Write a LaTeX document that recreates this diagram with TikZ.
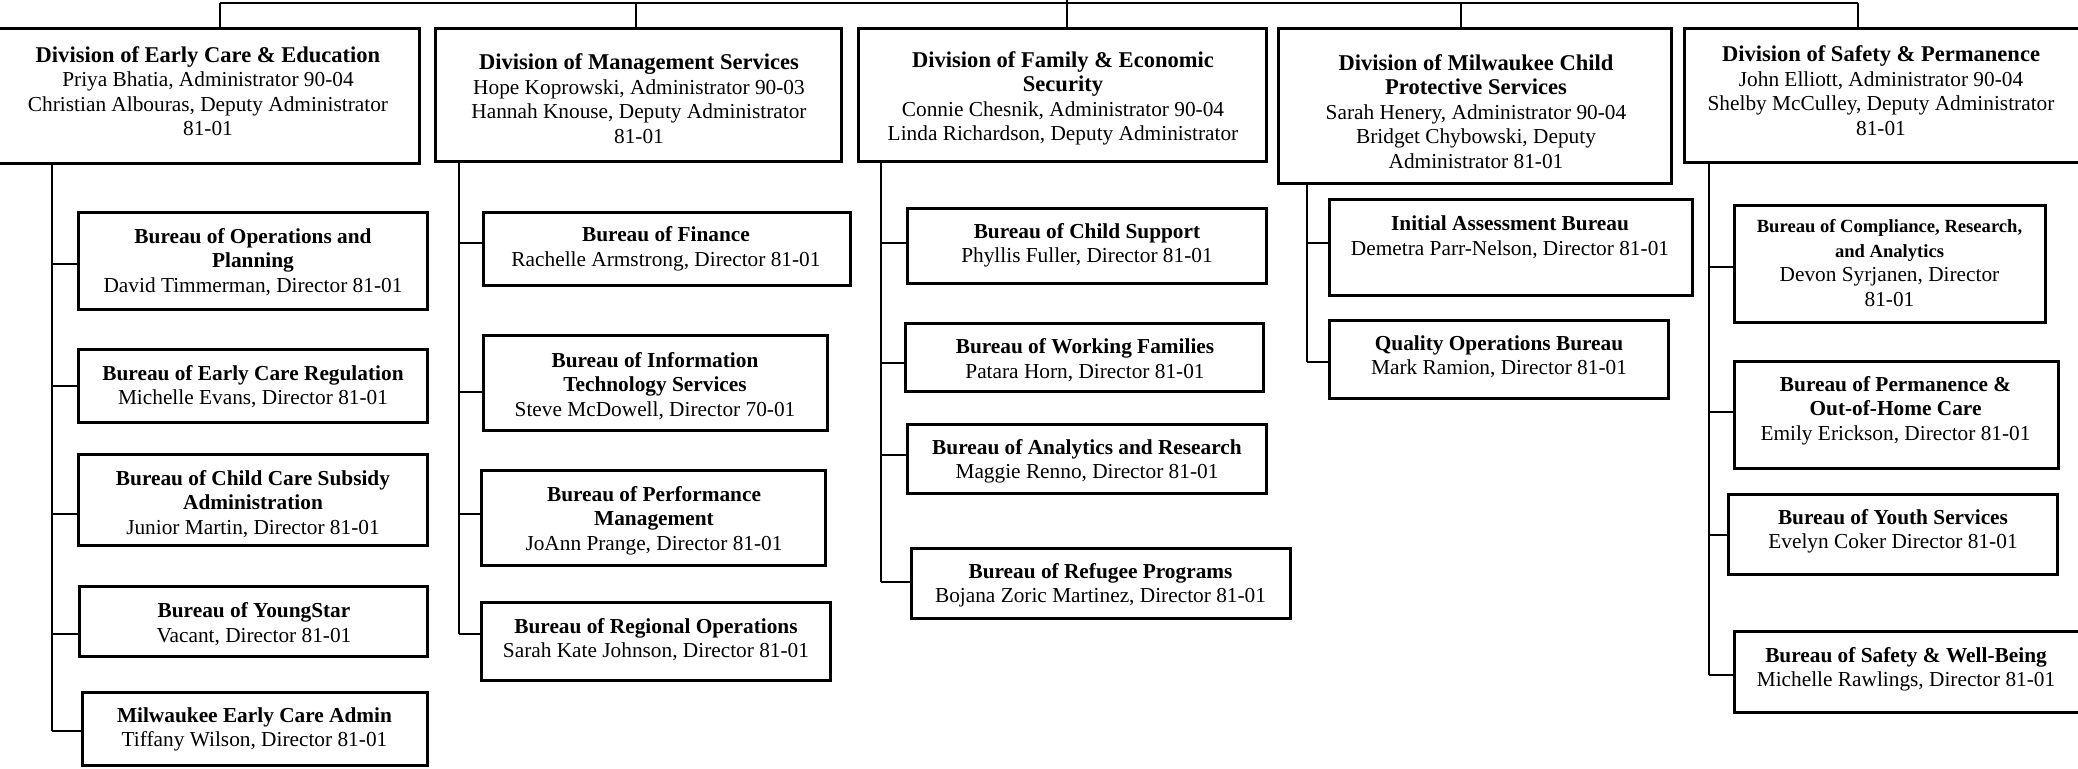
\documentclass[tikz,border=0pt]{standalone}
\usepackage{fontspec}
\setmainfont{Liberation Serif}
\usetikzlibrary{fit}
\tikzset{
  orgbox/.style={draw=black, line width=1.65pt, inner sep=0pt, outer sep=0pt},
  txt/.style={align=center, inner sep=0pt, text=black, font=\fontsize{10.66}{12.25}\selectfont},
  conn/.style={draw=black, line width=0.7pt},
}
\newcommand{\divtitle}[1]{{\fontsize{11.27}{12.25}\selectfont\bfseries #1}}
\newcommand{\smalltitle}[1]{{\fontsize{9.3}{10.6}\selectfont\bfseries #1}}
\begin{document}
\begin{tikzpicture}[x=0.5pt,y=-0.5pt]
\path[use as bounding box] (0,0) rectangle (2078,769);
\clip (0,0) rectangle (2078,769);
\fill[white] (0,0) rectangle (2078,769);

% ---------- Divisions ----------
\node[orgbox, fit={(-3,28.5)(419.5,163.5)}] (d1) {};
\node[txt] (d1t) at (208,91) {\divtitle{Division of Early Care \& Education}\\Priya Bhatia, Administrator 90-04\\Christian Albouras, Deputy Administrator\\81-01};

\node[orgbox, fit={(435.5,28.5)(841.5,161.5)}] (d2) {};
\node[txt] (d2t) at (639,98.5) {\divtitle{Division of Management Services}\\Hope Koprowski, Administrator 90-03\\Hannah Knouse, Deputy Administrator\\81-01};

\node[orgbox, fit={(858.5,28.5)(1266.5,161.5)}] (d3) {};
\node[txt] (d3t) at (1063,98.5) {\divtitle{Division of Family \& Economic}\\\divtitle{Security}\\Connie Chesnik, Administrator 90-04\\Linda Richardson, Deputy Administrator};

\node[orgbox, fit={(1278.5,28.5)(1671.5,183.5)}] (d4) {};
\node[txt] (d4t) at (1476,111.5) {\divtitle{Division of Milwaukee Child}\\\divtitle{Protective Services}\\Sarah Henery, Administrator 90-04\\Bridget Chybowski, Deputy\\Administrator 81-01};

\node[orgbox, fit={(1684.5,28.5)(2079.5,162.5)}] (d5) {};
\node[txt] (d5t) at (1881,90.5) {\divtitle{Division of Safety \& Permanence}\\John Elliott, Administrator 90-04\\Shelby McCulley, Deputy Administrator\\81-01};

% ---------- Column 1 ----------
\node[orgbox, fit={(78.5,212.5)(427.5,309.5)}] (b1a) {};
\node[txt] (b1at) at (253,262) {\textbf{Bureau of Operations and}\\\textbf{Planning}\\David Timmerman, Director 81-01};
\node[orgbox, fit={(78.5,349.5)(427.5,422.5)}] (b1b) {};
\node[txt] (b1bt) at (253,386.5) {\textbf{Bureau of Early Care Regulation}\\Michelle Evans, Director 81-01};
\node[orgbox, fit={(78.5,454.5)(427.5,545.5)}] (b1c) {};
\node[txt] (b1ct) at (253,504) {\textbf{Bureau of Child Care Subsidy}\\\textbf{Administration}\\Junior Martin, Director 81-01};
\node[orgbox, fit={(79.5,586.5)(427.5,656.5)}] (b1d) {};
\node[txt] (b1dt) at (254,624) {\textbf{Bureau of YoungStar}\\Vacant, Director 81-01};
\node[orgbox, fit={(82.5,692.5)(427.5,765.5)}] (b1e) {};
\node[txt] (b1et) at (254.5,729.5) {\textbf{Milwaukee Early Care Admin}\\Tiffany Wilson, Director 81-01};

% ---------- Column 2 ----------
\node[orgbox, fit={(483.5,212.5)(850.5,285.5)}] (b2a) {};
\node[txt] (b2at) at (666,249) {\textbf{Bureau of Finance}\\Rachelle Armstrong, Director 81-01};
\node[orgbox, fit={(483.5,335.5)(827.5,430.5)}] (b2b) {};
\node[txt] (b2bt) at (655,386) {\textbf{Bureau of Information}\\\textbf{Technology Services}\\Steve McDowell, Director 70-01};
\node[orgbox, fit={(481.5,470.5)(825.5,565.5)}] (b2c) {};
\node[txt] (b2ct) at (654,520.5) {\textbf{Bureau of Performance}\\\textbf{Management}\\JoAnn Prange, Director 81-01};
\node[orgbox, fit={(481.5,602.5)(830.5,680.5)}] (b2d) {};
\node[txt] (b2dt) at (656,639.5) {\textbf{Bureau of Regional Operations}\\Sarah Kate Johnson, Director 81-01};

% ---------- Column 3 ----------
\node[orgbox, fit={(907.5,208.5)(1266.5,283.5)}] (b3a) {};
\node[txt] (b3at) at (1087,245.5) {\textbf{Bureau of Child Support}\\Phyllis Fuller, Director 81-01};
\node[orgbox, fit={(905.5,323.5)(1263.5,391.5)}] (b3b) {};
\node[txt] (b3bt) at (1085,360) {\textbf{Bureau of Working Families}\\Patara Horn, Director 81-01};
\node[orgbox, fit={(907.5,424.5)(1266.5,493.5)}] (b3c) {};
\node[txt] (b3ct) at (1087,461.5) {\textbf{Bureau of Analytics and Research}\\Maggie Renno, Director 81-01};
\node[orgbox, fit={(911.5,548.5)(1290.5,618.5)}] (b3d) {};
\node[txt] (b3dt) at (1100.5,585.5) {\textbf{Bureau of Refugee Programs}\\Bojana Zoric Martinez, Director 81-01};

% ---------- Column 4 ----------
\node[orgbox, fit={(1329.5,199.5)(1692.5,295.5)}] (b4a) {};
\node[txt] (b4at) at (1510,237) {\textbf{Initial Assessment Bureau}\\Demetra Parr-Nelson, Director 81-01};
\node[orgbox, fit={(1329.5,320.5)(1668.5,398.5)}] (b4b) {};
\node[txt] (b4bt) at (1499,356.5) {\textbf{Quality Operations Bureau}\\Mark Ramion, Director 81-01};

% ---------- Column 5 ----------
\node[orgbox, fit={(1734.5,205.5)(2045.5,322.5)}] (b5a) {};
\node[txt] (b5at) at (1889.5,263) {\smalltitle{Bureau of Compliance, Research,}\\\smalltitle{and Analytics}\\Devon Syrjanen, Director\\81-01};
\node[orgbox, fit={(1734.5,361.5)(2058.5,468.5)}] (b5b) {};
\node[txt] (b5bt) at (1895.5,410.5) {\textbf{Bureau of Permanence \&}\\\textbf{Out-of-Home Care}\\Emily Erickson, Director 81-01};
\node[orgbox, fit={(1728.5,494.5)(2057.5,574.5)}] (b5c) {};
\node[txt] (b5ct) at (1893,531.5) {\textbf{Bureau of Youth Services}\\Evelyn Coker Director 81-01};
\node[orgbox, fit={(1734.5,631.5)(2079.5,712.5)}] (b5d) {};
\node[txt] (b5dt) at (1906,669.5) {\textbf{Bureau of Safety \& Well-Being}\\Michelle Rawlings, Director 81-01};

% ---------- Top bus ----------
\coordinate (root) at (1067,0);
\coordinate (bus1) at (220,3);
\coordinate (bus2) at (636,3);
\coordinate (bus3) at (1067,3);
\coordinate (bus4) at (1461,3);
\coordinate (bus5) at (1858,3);
\draw[conn] (bus1) -- (bus5);
\draw[conn] (root) -- (d3.north -| root);
\draw[conn] (bus1) -- (d1.north -| bus1);
\draw[conn] (bus2) -- (d2.north -| bus2);
\draw[conn] (bus4) -- (d4.north -| bus4);
\draw[conn] (bus5) -- (d5.north -| bus5);

% ---------- Column 1 connectors ----------
\coordinate (j1a) at (52,264);
\coordinate (j1b) at (52,386);
\coordinate (j1c) at (52,514);
\coordinate (j1d) at (52,634);
\coordinate (j1e) at (52,731);
\draw[conn] (d1.south -| j1a) -- (j1e);
\draw[conn] (j1a) -- (j1a -| b1a.west);
\draw[conn] (j1b) -- (j1b -| b1b.west);
\draw[conn] (j1c) -- (j1c -| b1c.west);
\draw[conn] (j1d) -- (j1d -| b1d.west);
\draw[conn] (j1e) -- (j1e -| b1e.west);

% ---------- Column 2 connectors ----------
\coordinate (j2a) at (459,243);
\coordinate (j2b) at (459,392);
\coordinate (j2c) at (459,514);
\coordinate (j2d) at (459,634);
\draw[conn] (d2.south -| j2a) -- (j2d);
\draw[conn] (j2a) -- (j2a -| b2a.west);
\draw[conn] (j2b) -- (j2b -| b2b.west);
\draw[conn] (j2c) -- (j2c -| b2c.west);
\draw[conn] (j2d) -- (j2d -| b2d.west);

% ---------- Column 3 connectors ----------
\coordinate (j3a) at (881,243);
\coordinate (j3b) at (881,363);
\coordinate (j3c) at (881,455);
\coordinate (j3d) at (881,582);
\draw[conn] (d3.south -| j3a) -- (j3d);
\draw[conn] (j3a) -- (j3a -| b3a.west);
\draw[conn] (j3b) -- (j3b -| b3b.west);
\draw[conn] (j3c) -- (j3c -| b3c.west);
\draw[conn] (j3d) -- (j3d -| b3d.west);

% ---------- Column 4 connectors ----------
\coordinate (j4a) at (1307,243);
\coordinate (j4b) at (1307,362);
\draw[conn] (d4.south -| j4a) -- (j4b);
\draw[conn] (j4a) -- (j4a -| b4a.west);
\draw[conn] (j4b) -- (j4b -| b4b.west);

% ---------- Column 5 connectors ----------
\coordinate (j5a) at (1709,267);
\coordinate (j5b) at (1709,412);
\coordinate (j5c) at (1709,535);
\coordinate (j5d) at (1709,675);
\draw[conn] (d5.south -| j5a) -- (j5d);
\draw[conn] (j5a) -- (j5a -| b5a.west);
\draw[conn] (j5b) -- (j5b -| b5b.west);
\draw[conn] (j5c) -- (j5c -| b5c.west);
\draw[conn] (j5d) -- (j5d -| b5d.west);
\end{tikzpicture}
\end{document}
